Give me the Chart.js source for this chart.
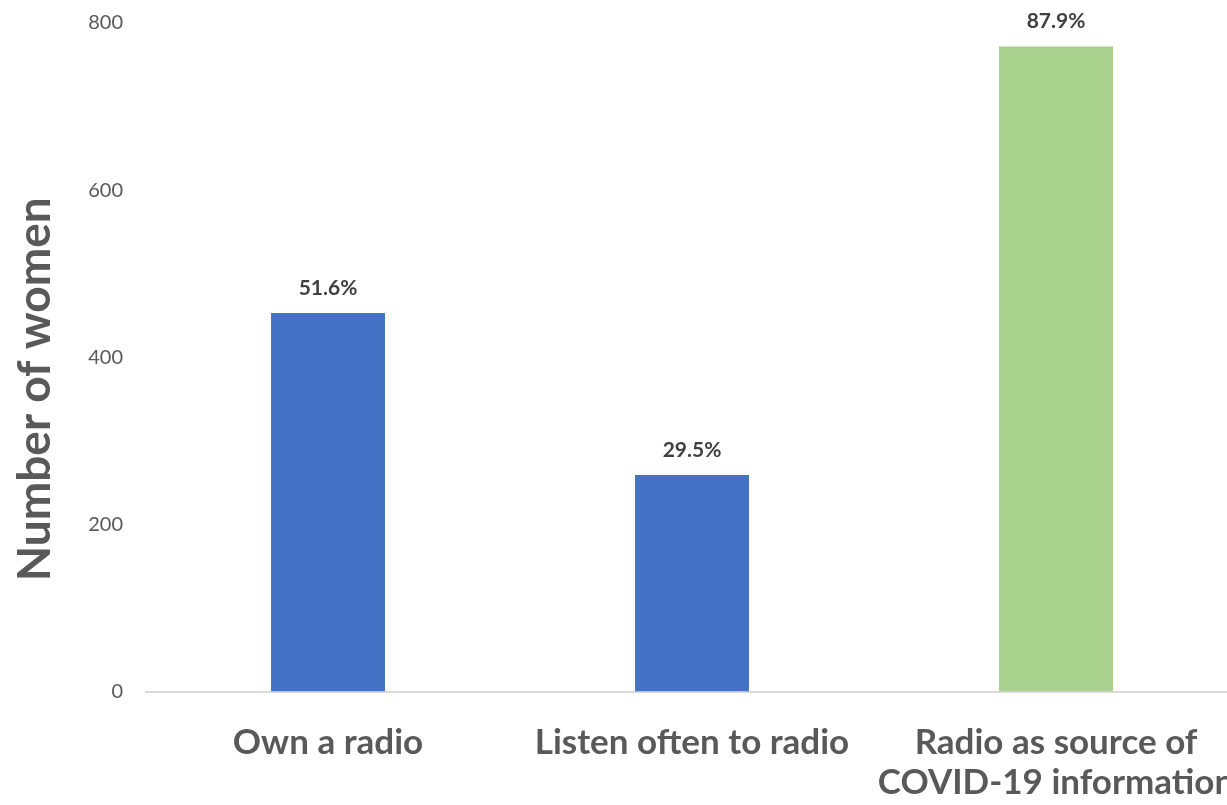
<!DOCTYPE html>
<html>
<head>
<meta charset="utf-8">
<script src="https://cdn.jsdelivr.net/npm/chart.js@4/dist/chart.umd.min.js"></script>
<style>
  html, body { margin: 0; padding: 0; background: #fff; overflow: hidden; width: 1227px; height: 805px; }
  #wrap { position: absolute; left: 0; top: 0; width: 1240px; height: 805px; }
</style>
</head>
<body>
<div id="wrap"><canvas id="c"></canvas></div>
<script>
const categories = [
  "Own a radio",
  "Listen often to radio",
  ["Radio as source of", "COVID-19 information"]
];
const counts = [453, 259, 772];
const percentLabels = ["51.6%", "29.5%", "87.9%"];
const barColors = ["#4472C4", "#4472C4", "#A9D18E"];
const yTicks = [0, 200, 400, 600, 800];
const yTitle = "Number of women";

const FONT = "Lato, 'Open Sans', sans-serif";

const valueLabels = {
  id: "valueLabels",
  afterDatasetsDraw(chart) {
    const ctx = chart.ctx;
    const meta = chart.getDatasetMeta(0);
    ctx.save();
    ctx.font = "bold 21px " + FONT;
    ctx.fillStyle = "#404040";
    ctx.textAlign = "center";
    ctx.textBaseline = "middle";
    meta.data.forEach((bar, i) => {
      ctx.fillText(percentLabels[i], bar.x, bar.y - 25);
    });
    ctx.restore();
  }
};

const yTitlePlugin = {
  id: "yTitlePlugin",
  afterDraw(chart) {
    const ctx = chart.ctx;
    const area = chart.chartArea;
    ctx.save();
    ctx.font = "bold 46px " + FONT;
    ctx.fillStyle = "#595959";
    ctx.textAlign = "center";
    ctx.textBaseline = "middle";
    ctx.translate(35, (area.top + area.bottom) / 2 + 32);
    ctx.rotate(-Math.PI / 2);
    ctx.fillText(yTitle, 0, 0);
    ctx.restore();
  }
};

function noPad(axis) {
  axis.paddingTop = 0; axis.paddingBottom = 0;
  axis.paddingLeft = 0; axis.paddingRight = 0;
}

new Chart(document.getElementById("c"), {
  type: "bar",
  data: {
    labels: categories,
    datasets: [{
      data: counts,
      backgroundColor: barColors,
      borderWidth: 0,
      barPercentage: 0.313,
      categoryPercentage: 1.0
    }]
  },
  options: {
    responsive: true,
    maintainAspectRatio: false,
    animation: false,
    layout: { padding: { top: 23, right: 2, left: 0, bottom: 0 } },
    plugins: { legend: { display: false }, tooltip: { enabled: false } },
    scales: {
      x: {
        grid: { display: false, drawTicks: false },
        border: { display: true, color: "#d9d9d9", width: 2 },
        ticks: {
          color: "#595959",
          font: { family: FONT, size: 35, weight: "bold", lineHeight: 1.143 },
          padding: 31,
          maxRotation: 0,
          autoSkip: false
        },
        afterFit(axis) { axis.height = 113.5; noPad(axis); }
      },
      y: {
        min: 0,
        max: 800,
        afterBuildTicks(axis) { axis.ticks = yTicks.map(v => ({ value: v })); },
        grid: { display: false, drawTicks: false },
        border: { display: false },
        ticks: {
          color: "#595959",
          font: { family: FONT, size: 20 },
          padding: 23
        },
        title: { display: false },
        afterFit(axis) { axis.width = 146; noPad(axis); }
      }
    }
  },
  plugins: [valueLabels, yTitlePlugin]
});
</script>
</body>
</html>
